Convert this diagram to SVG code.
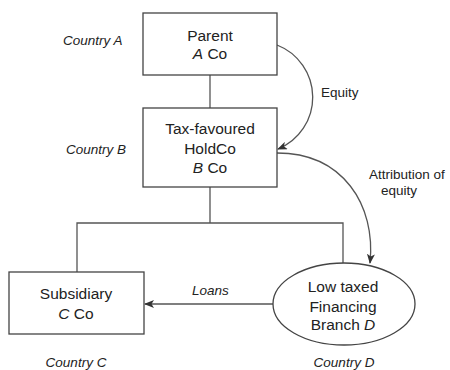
<svg xmlns="http://www.w3.org/2000/svg" width="450" height="370" viewBox="0 0 450 370">
<style>
.box{fill:#fff;stroke:#444;stroke-width:1.3}
.ln{fill:none;stroke:#555;stroke-width:1.3}
.t{font-family:"Liberation Sans",Arial,sans-serif;font-size:15.5px;fill:#222;text-anchor:middle}
.s{font-family:"Liberation Sans",Arial,sans-serif;font-size:13.5px;fill:#222}
.i{font-style:italic}
</style>
<defs>
<marker id="ah" markerWidth="10" markerHeight="8" refX="9" refY="4" orient="auto" markerUnits="userSpaceOnUse">
<path d="M0,0 L10,4 L0,8 L2.5,4 Z" fill="#333"/>
</marker>
</defs>
<g id="connectors">
<path class="ln" d="M210,75 V108"/>
<path class="ln" d="M210,187 V223 M77,272 V223 H343 V263"/>
<path class="ln" d="M277,45 A56,56 0 0 1 278,149" marker-end="url(#ah)"/>
<path class="ln" d="M277,153 C343,153 376,205 370,263" marker-end="url(#ah)"/>
<path class="ln" d="M273,304 H145" marker-end="url(#ah)"/>
<text class="s" x="321" y="97">Equity</text>
<text class="s" x="369" y="179">Attribution of</text>
<text class="s" x="381" y="195">equity</text>
<text class="s i" x="192" y="295">Loans</text>
</g>
<g id="nodeA">
<rect class="box" x="143" y="13" width="134" height="62"/>
<text class="t" x="210" y="41">Parent</text>
<text class="t" x="210" y="59"><tspan class="i">A</tspan> Co</text>
</g>
<g id="nodeB">
<rect class="box" x="143" y="108" width="134" height="79"/>
<text class="t" x="210" y="134">Tax-favoured</text>
<text class="t" x="210" y="154">HoldCo</text>
<text class="t" x="210" y="173"><tspan class="i">B</tspan> Co</text>
</g>
<g id="nodeC">
<rect class="box" x="9" y="272" width="135" height="62"/>
<text class="t" x="76" y="299">Subsidiary</text>
<text class="t" x="76" y="319"><tspan class="i">C</tspan> Co</text>
</g>
<g id="nodeD">
<ellipse class="box" cx="344" cy="304" rx="71" ry="41"/>
<text class="t" x="343" y="292">Low taxed</text>
<text class="t" x="343" y="312">Financing</text>
<text class="t" x="343" y="330">Branch <tspan class="i">D</tspan></text>
</g>
<g id="countries">
<text class="s i" x="63" y="45">Country A</text>
<text class="s i" x="66" y="154">Country B</text>
<text class="s i" x="76" y="367" text-anchor="middle">Country C</text>
<text class="s i" x="344" y="367" text-anchor="middle">Country D</text>
</g>
</svg>
